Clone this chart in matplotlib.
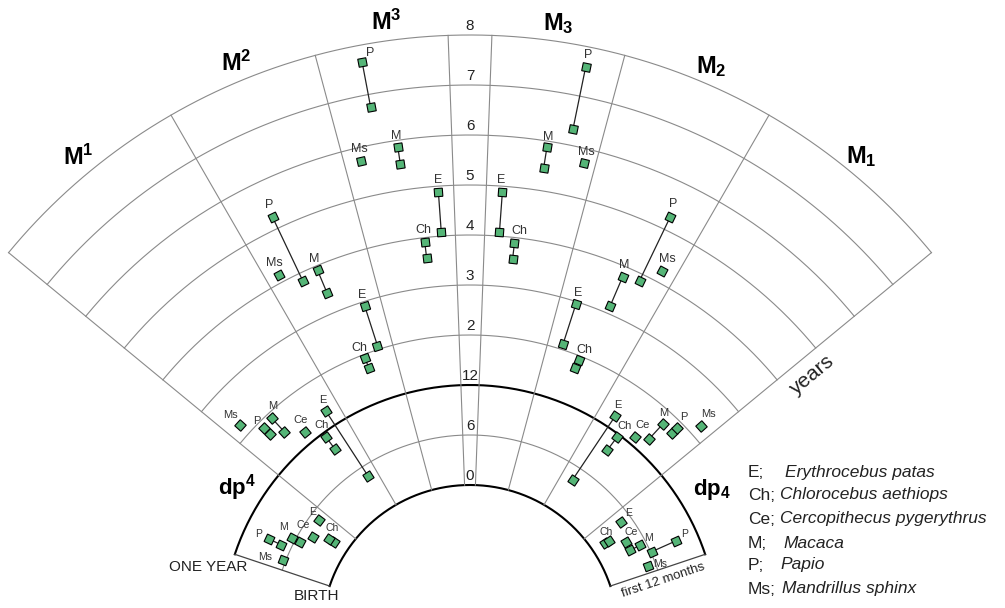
import numpy as np
import matplotlib.pyplot as plt

plt.rcParams['font.family'] = ['Liberation Sans', 'DejaVu Sans']
plt.rcParams['mathtext.fontset'] = 'custom'
plt.rcParams['mathtext.rm'] = 'Liberation Sans'
plt.rcParams['mathtext.bf'] = 'Liberation Sans:bold'

nan = np.nan

# data: angle of each taxon (deg from vertical, left half negative)
# and the older / younger end of its age range in years (nan = single value)

# M3 (left half)
m3u_taxa = ['P', 'Ms', 'M', 'E', 'Ch']
m3u_ang = [-10.7, -13.0, -8.45, -4.1, -6.6]
m3u_hi = [7.66, 5.72, 5.87, 4.88, 3.91]
m3u_lo = [6.74, nan, 5.53, 4.08, 3.59]

# M2 (left half)
m2u_taxa = ['P', 'Ms', 'M', 'E', 'Ch']
m2u_ang = [-25.4, -28.0, -22.8, -17.85, -20.9]
m2u_hi = [5.24, 4.16, 3.91, 2.92, 1.93]
m2u_lo = [3.84, nan, 3.42, 2.08, 1.72]

# M3 lower (right half)
m3l_taxa = ['P', 'M', 'Ms', 'E', 'Ch']
m3l_ang = [11.55, 9.0, 13.6, 4.2, 6.5]
m3l_hi = [7.59, 5.88, 5.71, 4.89, 3.89]
m3l_lo = [6.33, 5.45, nan, 4.08, 3.57]

# M2 lower (right half)
m2l_taxa = ['P', 'Ms', 'M', 'E', 'Ch']
m2l_ang = [25.7, 28.0, 23.2, 17.85, 21.7]
m2l_hi = [5.27, 4.24, 3.79, 2.95, 1.92]
m2l_lo = [3.86, nan, 3.16, 2.11, 1.74]

# dp4 upper, outer group (left half)
dpu_taxa = ['Ms', 'P', 'M', 'Ce', 'E', 'Ch']
dpu_ang = [-47.9, -45.2, -42.7, -39.4, -33.0, -36.3]
dpu_hi = [2.24, 1.85, 1.89, 1.24, 1.34, 0.956]
dpu_lo = [nan, 1.68, 1.52, nan, 0.395, 0.80]

# dp4 lower, outer group (right half)
dpl_taxa = ['E', 'Ch', 'Ce', 'M', 'P', 'Ms']
dpl_ang = [33.8, 36.9, 40.05, 42.7, 45.3, 48.2]
dpl_hi = [1.27, 0.969, 1.17, 1.73, 1.87, 2.25]
dpl_lo = [0.366, 0.808, nan, 1.32, 1.72, nan]

# dp4 upper, first 12 months (left half)
dpu0_taxa = ['E', 'Ce', 'Ch', 'M', 'P', 'Ms']
dpu0_ang = [-53.2, -58.4, -56.25, -61.95, -64.95, -68.6]
dpu0_hi = [0.406, 0.359, 0.22, 0.539, 0.736, 0.525]
dpu0_lo = [nan, nan, 0.158, 0.447, 0.605, nan]

# dp4 lower, first 12 months (right half)
dpl0_taxa = ['E', 'Ch', 'Ce', 'M', 'P', 'Ms']
dpl0_ang = [53.8, 56.45, 59.6, 62.7, 65.9, 69.4]
dpl0_hi = [0.392, 0.187, 0.325, 0.431, 0.776, 0.424]
dpl0_lo = [nan, 0.141, nan, 0.322, 0.511, nan]

ring_labels = ['0', '6', '12', '2', '3', '4', '5', '6', '7', '8']
ring_ages = [0, 0.5, 1, 2, 3, 4, 5, 6, 7, 8]

legend_abbr = ['E;', 'Ch;', 'Ce;', 'M;', 'P;', 'Ms;']
legend_names = ['Erythrocebus patas', 'Chlorocebus aethiops',
                'Cercopithecus pygerythrus', 'Macaca', 'Papio',
                'Mandrillus sphinx']

# label offsets (pixels) from the older marker
m3u_off = [(8, 9), (-2, 12), (-2, 11), (0, 12), (-1, 12)]
m2u_off = [(-4, 12), (-5, 12), (-3, 11), (-2, 11), (-6, 10)]
m3l_off = [(3, 12), (1, 10), (3, 11), (-1, 12), (5, 12)]
m2l_off = [(3, 13), (5, 12), (2, 12), (2, 11), (6, 10)]
dpu_off = [(-10, 10), (-7, 7), (1, 12), (-4, 12), (-3, 11), (-4, 12)]
dpl_off = [(2, 11), (8, 11), (8, 12), (1, 11), (7, 11), (7, 12)]
dpu0_off = [(-6, 8), (-10, 12), (3, 11), (-8, 11), (-11, 5), (-18, 3)]
dpl0_off = [(7, 9), (-3, 9), (6, 10), (9, 7), (9, 7), (12, 2)]

GREEN = '#55b577'
GRID = '#8a8a8a'


def age_to_r(age):
    # first year drawn in months (100 units), then 50 units per year
    age = np.asarray(age, dtype=float)
    return np.where(age <= 1, 148 + age * 100, 198 + 50 * age)


def to_xy(ang, age):
    t = np.radians(ang)
    r = age_to_r(age)
    return r * np.sin(t), r * np.cos(t)


def pol(ang, r):
    t = np.radians(ang)
    return r * np.sin(t), r * np.cos(t)


def px(x, y):
    # image pixel -> data coords
    return x - 470, 633 - y


fig = plt.figure(figsize=(10.05, 6.08), dpi=100)
ax = fig.add_axes([0, 0, 1, 1])
ax.set_xlim(-470, 535)
ax.set_ylim(25, 633)
ax.axis('off')


def arc(age, a0, a1, **kw):
    a = np.linspace(a0, a1, 300)
    x, y = to_xy(a, np.full_like(a, age))
    ax.plot(x, y, **kw)


def spoke(ang, age0, age1, **kw):
    x0, y0 = to_xy(ang, age0)
    x1, y1 = to_xy(ang, age1)
    ax.plot([x0, x1], [y0, y1], **kw)


# grid
for yr in range(2, 9):
    arc(yr, -50.5, 50.5, color=GRID, lw=0.8, zorder=1)
arc(0.5, -71.5, 71.5, color=GRID, lw=0.8, zorder=1)
arc(0, -71.5, 71.5, color='k', lw=1.5, zorder=1)
arc(1, -71.5, 71.5, color='k', lw=1.5, zorder=1)
for a in [2.1, 15, 30, 50.5]:
    spoke(-a, 0, 8, color=GRID, lw=0.8, zorder=1)
    spoke(a, 0, 8, color=GRID, lw=0.8, zorder=1)
spoke(-71.5, 0, 1, color='#444', lw=0.9, zorder=1)
spoke(71.5, 0, 1, color='#444', lw=0.9, zorder=1)

groups = [
    (m3u_taxa, m3u_ang, m3u_hi, m3u_lo, m3u_off, 9),
    (m2u_taxa, m2u_ang, m2u_hi, m2u_lo, m2u_off, 9),
    (m3l_taxa, m3l_ang, m3l_hi, m3l_lo, m3l_off, 9),
    (m2l_taxa, m2l_ang, m2l_hi, m2l_lo, m2l_off, 9),
    (dpu_taxa, dpu_ang, dpu_hi, dpu_lo, dpu_off, 8),
    (dpl_taxa, dpl_ang, dpl_hi, dpl_lo, dpl_off, 8),
    (dpu0_taxa, dpu0_ang, dpu0_hi, dpu0_lo, dpu0_off, 7.5),
    (dpl0_taxa, dpl0_ang, dpl0_hi, dpl0_lo, dpl0_off, 7.5),
]

for taxa, ang, hi, lo, off, fs in groups:
    for name, a, h, l, (dx, dy) in zip(taxa, ang, hi, lo, off):
        mk = dict(marker=(4, 0, 45 - a), ms=8.3, mfc=GREEN, mec='k',
                  mew=0.8, ls='none', zorder=3)
        xh, yh = to_xy(a, h)
        if not np.isnan(l):
            xl, yl = to_xy(a, l)
            ax.plot([xh, xl], [yh, yl], color='#222', lw=0.9, zorder=2)
            ax.plot(xl, yl, **mk)
        ax.plot(xh, yh, **mk)
        ax.annotate(name, (xh, yh), xytext=(dx, dy), textcoords='offset pixels',
                    ha='center', va='center', fontsize=fs, color='#333')

# ring values along the centre strip
for lab, age in zip(ring_labels, ring_ages):
    ax.text(0, age_to_r(age) + 2, lab, ha='center', va='bottom',
            fontsize=11, color='#222')

# tooth names
tooth_names = [r'$\mathbf{M^1}$', r'$\mathbf{M^2}$', r'$\mathbf{M^3}$',
               r'$\mathbf{M_3}$', r'$\mathbf{M_2}$', r'$\mathbf{M_1}$']
tooth_ang = [-39.5, -22.3, -7.8, 8.2, 23.1, 39.4]
for name, a in zip(tooth_names, tooth_ang):
    x, y = pol(a, 616)
    ax.text(x, y, name, ha='center', va='center', fontsize=17)

x, y = pol(-58, 275)
ax.text(x, y, r'$\mathbf{dp^4}$', ha='center', va='center', fontsize=16)
x, y = pol(59.4, 281)
ax.text(x, y, r'$\mathbf{dp_4}$', ha='center', va='center', fontsize=16)

ax.text(*pol(-75.9, 270), 'ONE YEAR', ha='center', va='center', fontsize=11, color='#222')
ax.text(*pol(-76.5, 158), 'BIRTH', ha='center', va='center', fontsize=11, color='#222')
ax.text(*pol(74.6, 200), 'first 12 months', ha='center', va='center',
        fontsize=9.5, rotation=18.5, color='#222')
ax.text(*px(812, 375), 'years', ha='center', va='center', fontsize=15,
        rotation=39.5, color='#222')

# legend block
leg_y = [472.5, 495, 519, 544, 565, 589]
leg_x = [785, 780, 780, 783, 780, 782]
for ab, nm, yy, xx in zip(legend_abbr, legend_names, leg_y, leg_x):
    ax.text(*px(748, yy), ab, ha='left', va='center', fontsize=12.5, color='#222')
    ax.text(*px(xx, yy), nm, ha='left', va='center', fontsize=12.5,
            style='italic', color='#222')

fig.savefig('out.png', dpi=100)
